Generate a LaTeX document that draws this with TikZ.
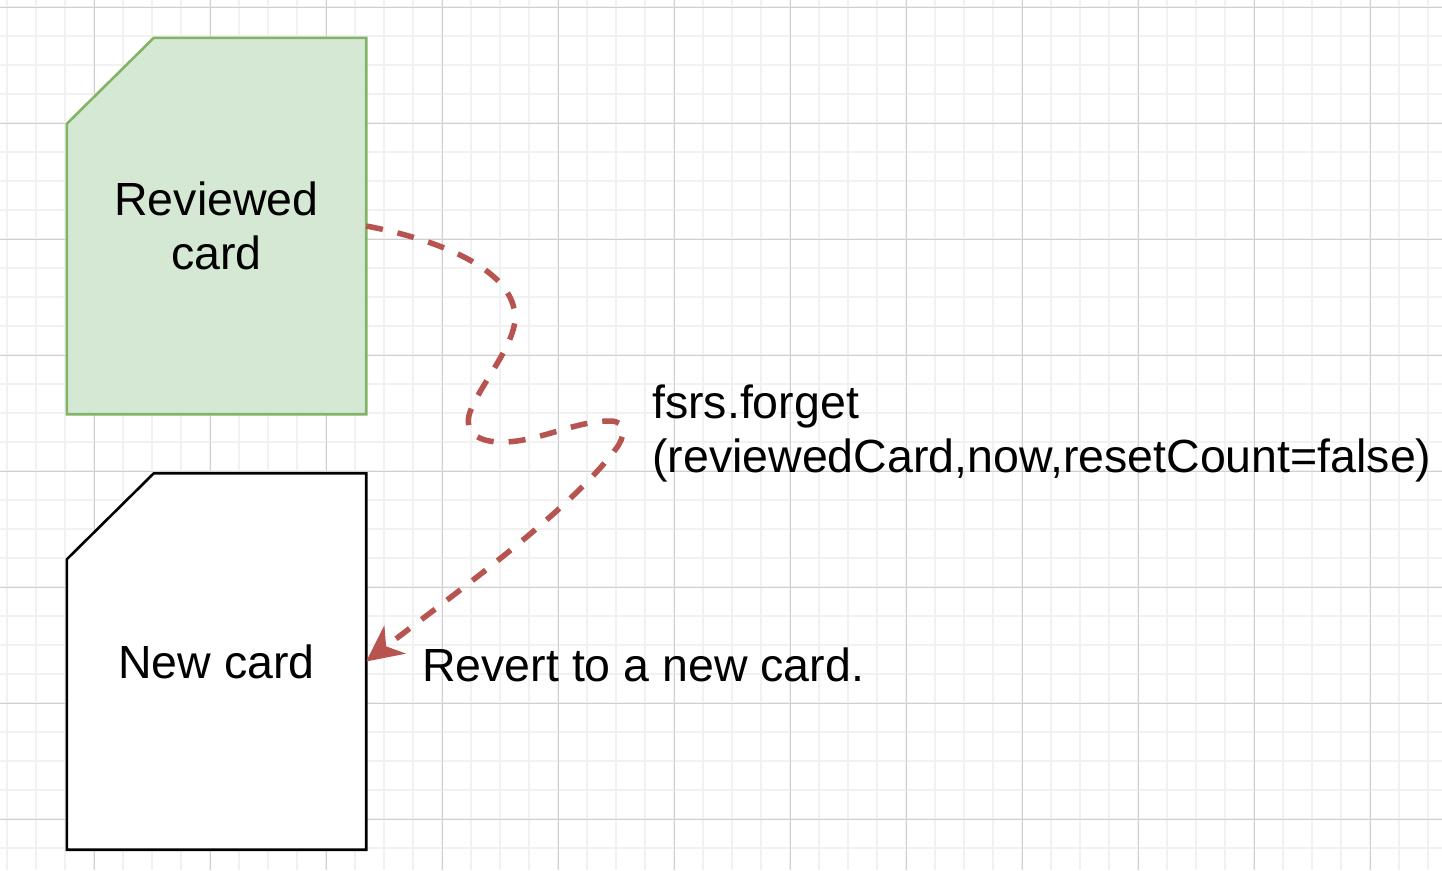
\documentclass[tikz,border=0pt]{standalone}
\usepackage{fontspec}
\setmainfont{Liberation Sans}
\usetikzlibrary{arrows.meta,calc}
\definecolor{minorgrid}{RGB}{241,241,241}
\definecolor{majorgrid}{RGB}{208,208,208}
\definecolor{cardgreenfill}{HTML}{D5E8D4}
\definecolor{cardgreenline}{HTML}{82B366}
\definecolor{edgered}{HTML}{B85450}
\tikzset{
  cardbox/.style={rectangle, minimum width=299pt, minimum height=376pt, inner sep=0pt, draw=none, align=center, font=\fontsize{46.5}{54}\selectfont},
  lbl/.style={inner sep=0pt, font=\fontsize{46.5}{54}\selectfont},
  reviewedstyle/.style={fill=cardgreenfill, draw=cardgreenline, line width=2.6pt, line join=miter},
  newstyle/.style={fill=white, draw=black, line width=2.6pt, line join=miter},
  forgetedge/.style={draw=edgered, line width=5.5pt, dash pattern=on 17pt off 15pt,
    -{Stealth[length=36pt, width=35pt, inset=11pt, fill=edgered]}}
}
\begin{document}
\begin{tikzpicture}[x=1pt, y=-1pt]
\useasboundingbox (0,0) rectangle (1442,870);
\fill[white] (0,0) rectangle (1442,870);
% grid
\foreach \x in {7,36,...,1442} \draw[minorgrid, line width=1.5pt] (\x,0) -- (\x,870);
\foreach \y in {7,36,...,870} \draw[minorgrid, line width=1.5pt] (0,\y) -- (1442,\y);
\foreach \x in {94,210,...,1442} \draw[majorgrid, line width=1pt] (\x,0) -- (\x,870);
\foreach \y in {7,123,...,870} \draw[majorgrid, line width=1pt] (0,\y) -- (1442,\y);
% cards
\node[cardbox] (rev) at (216.5,226) {};
\path[reviewedstyle] (rev.north east) -- (rev.south east) -- (rev.south west)
  -- ([yshift=-86pt]rev.north west) -- ([xshift=87pt]rev.north west) -- cycle;
\node[cardbox] at (rev.center) {Reviewed\\card};
\node[cardbox] (new) at (216.5,661.5) {};
\path[newstyle] (new.north east) -- (new.south east) -- (new.south west)
  -- ([yshift=-86pt]new.north west) -- ([xshift=87pt]new.north west) -- cycle;
\node[cardbox] at (new.center) {New card};
% edge
\draw[forgetedge] (rev.east)
  .. controls (440,240) and (515,270) .. (515,318)
  .. controls (515,345) and (480,385) .. (470,412)
  .. controls (463,432) and (478,443) .. (505,442)
  .. controls (540,441) and (575,421) .. (610,421)
  .. controls (628,421) and (625,438) .. (615,450)
  .. controls (570,510) and (460,590) .. (new.east);
% labels
\node[lbl, anchor=north west, align=left] (call) at (652,384.5) {fsrs.forget\\(reviewedCard,now,resetCount=false)};
\node[lbl, anchor=base west] (revert) at (422,681) {Revert to a new card.};
\end{tikzpicture}
\end{document}
